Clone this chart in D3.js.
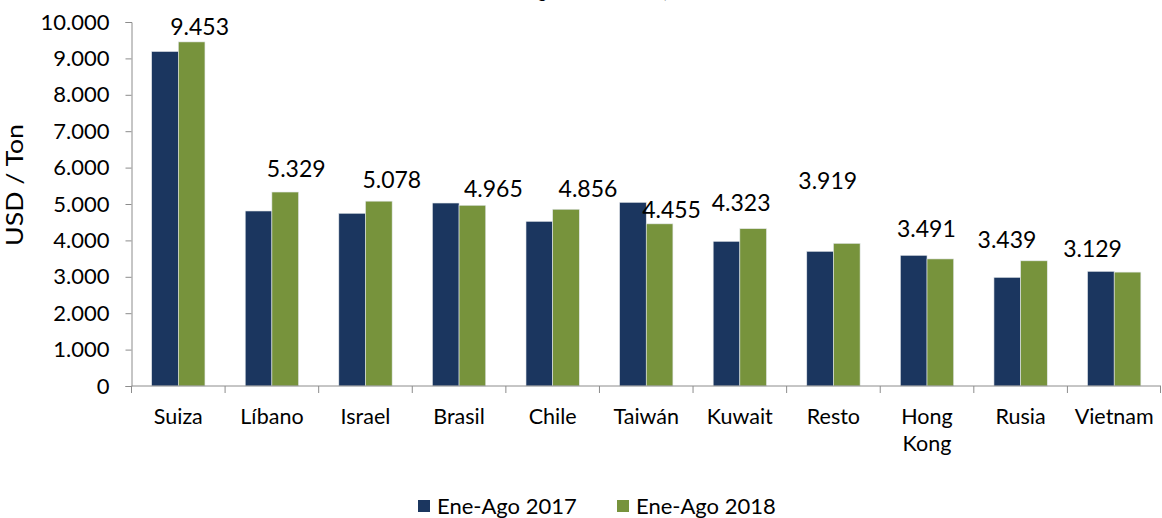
<!DOCTYPE html>
<html>
<head>
<meta charset="utf-8">
<script src="https://cdn.jsdelivr.net/npm/d3@7"></script>
<style>
  body { margin: 0; background: #fff; }
  text { font-family: Lato, "Open Sans", sans-serif; fill: #000; }
</style>
</head>
<body>
<div id="viz"></div>
<script>
const w = 1162;
const h = 518;

// data
const paises = ['Suiza', 'Líbano', 'Israel', 'Brasil', 'Chile', 'Taiwán', 'Kuwait', 'Resto', 'Hong Kong', 'Rusia', 'Vietnam'];
const ene2017 = [9190, 4808, 4745, 5027, 4524, 5046, 3975, 3700, 3590, 2985, 3150];
const ene2018 = [9453, 5329, 5078, 4965, 4856, 4455, 4323, 3919, 3491, 3439, 3129];
const yTicks = [0, 1000, 2000, 3000, 4000, 5000, 6000, 7000, 8000, 9000, 10000];
const series = ['Ene-Ago 2017', 'Ene-Ago 2018'];

// label nudges (px) relative to the top-centre of the 2018 bar, as placed in the original
const labelNudge = [[8, -7], [11, -15], [13, -13], [21, -8], [22, -12], [12, -6],
                    [-12, -18], [-19, -54], [-14, -22], [-27, -13], [-35, -15]];

const colors = ['#1b365f', '#77933c'];

const margin = {top: 22, right: 1, bottom: 132, left: 131.5};

const svg = d3.select('#viz').append('svg')
    .attr('width', w)
    .attr('height', h)

const x = d3.scaleBand()
    .domain(paises)
    .range([margin.left, w - margin.right])

const inner = d3.scaleBand()
    .domain([0, 1])
    .range([0, x.bandwidth()])
    .paddingOuter(0.755)

const y = d3.scaleLinear()
    .domain([0, 10000])
    .range([h - margin.bottom, margin.top])

const fmt = v => d3.format(',')(v).replace(/,/g, '.')

// title (mostly cut off above the picture)
let title = svg.append('text')
    .attr('x', 0)
    .attr('y', -2)
    .attr('font-weight', 'bold')
    .attr('font-size', 17)
    .text('Valor unitario Ene-Ago 2017 vs 2018, USD/Ton')
let gPos = title.node().getStartPositionOfChar(title.text().indexOf('g')).x
title.attr('x', 538 - gPos)

// y axis
let yAxis = svg.append('g')
    .attr('transform', `translate(${margin.left},0)`)
    .call(d3.axisLeft(y).tickValues(yTicks).tickSize(6).tickPadding(16).tickFormat(fmt))
yAxis.selectAll('text').attr('font-size', 22).style('font-family', 'Lato, sans-serif')
yAxis.selectAll('line, path').attr('stroke', '#8c8c8c')

svg.append('text')
    .attr('transform', `translate(23,185) rotate(-90)`)
    .attr('text-anchor', 'middle')
    .attr('font-size', 23)
    .attr('textLength', 122)
    .attr('lengthAdjust', 'spacingAndGlyphs')
    .text('USD / Ton')

// bars
let groups = svg.append('g').selectAll('g')
    .data(paises)
    .join('g')
    .attr('transform', d => `translate(${x(d)},0)`)

groups.each(function (d, i) {
    let g = d3.select(this)
    ;[ene2017[i], ene2018[i]].forEach((v, k) => {
        g.append('rect')
            .attr('x', inner(k))
            .attr('width', inner.bandwidth())
            .attr('y', y(v))
            .attr('height', y(0) - y(v))
            .attr('fill', colors[k])
            .attr('stroke', '#e4e8ec')
            .attr('stroke-width', 0.6)
    })
    g.append('text')
        .attr('x', inner(1) + inner.bandwidth() / 2 + labelNudge[i][0])
        .attr('y', y(ene2018[i]) + labelNudge[i][1])
        .attr('text-anchor', 'middle')
        .attr('font-size', 23)
        .text(fmt(ene2018[i]))
})

// x axis
let xAxisG = svg.append('g')
    .attr('transform', `translate(0,${y(0)})`)
xAxisG.append('line')
    .attr('x1', margin.left).attr('x2', w - margin.right)
    .attr('stroke', '#8c8c8c')
xAxisG.selectAll('.tick')
    .data(paises.concat(['end']))
    .join('line')
    .attr('x1', (d, i) => i < paises.length ? x(d) : x.range()[1] - 0.5)
    .attr('x2', (d, i) => i < paises.length ? x(d) : x.range()[1] - 0.5)
    .attr('y1', 0).attr('y2', 7)
    .attr('stroke', '#8c8c8c')

xAxisG.selectAll('text')
    .data(paises)
    .join('text')
    .attr('font-size', 21.5)
    .attr('text-anchor', 'middle')
    .each(function (d) {
        let words = d.split(' ')
        d3.select(this).selectAll('tspan')
            .data(words)
            .join('tspan')
            .attr('x', x(d) + x.bandwidth() / 2)
            .attr('y', (t, j) => 38 + j * 27)
            .text(t => t)
    })

// legend
let legend = svg.append('g')
    .attr('transform', `translate(0,506)`)
let legendX = [418, 617]
series.forEach((s, k) => {
    legend.append('rect')
        .attr('x', legendX[k]).attr('y', -6)
        .attr('width', 12).attr('height', 12)
        .attr('fill', colors[k])
    legend.append('text')
        .attr('x', legendX[k] + 19).attr('y', 8)
        .attr('font-size', 22)
        .text(s)
})
</script>
</body>
</html>
